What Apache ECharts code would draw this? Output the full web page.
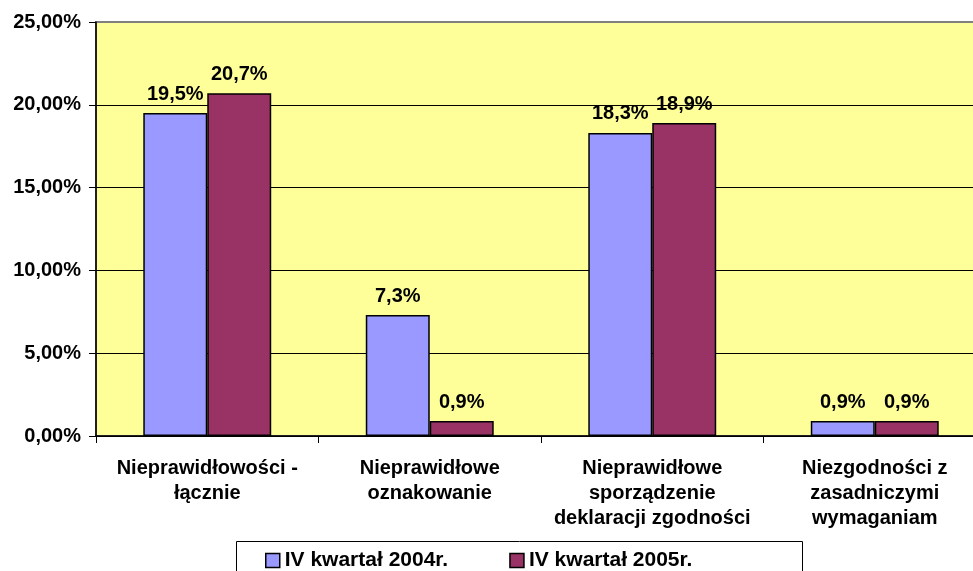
<!DOCTYPE html>
<html>
<head>
<meta charset="utf-8">
<script src="https://cdn.jsdelivr.net/npm/echarts@6/dist/echarts.min.js"></script>
<style>
  html, body { margin: 0; padding: 0; background: #fff; }
  #chart { width: 973px; height: 571px; }
</style>
</head>
<body>
<div id="chart"></div>
<script>
const categories = [
  'Nieprawidłowości -\nłącznie',
  'Nieprawidłowe\noznakowanie',
  'Nieprawidłowe\nsporządzenie\ndeklaracji zgodności',
  'Niezgodności z\nzasadniczymi\nwymaganiam'
];
const seriesNames = ['IV kwartał 2004r.', 'IV kwartał 2005r.'];
const values2004 = [19.5, 7.3, 18.3, 0.9];
const values2005 = [20.7, 0.9, 18.9, 0.9];

const font = 'Arial, "Liberation Sans", sans-serif';
const pct = (v, d) => v.toFixed(d).replace('.', ',') + '%';

const chart = echarts.init(document.getElementById('chart'));

const barLabel = {
    show: true,
    position: 'top',
    distance: 9,
    color: '#000',
    fontFamily: font,
    fontWeight: 'bold',
    fontSize: 20,
    formatter: p => pct(p.value, 1)
};

const option = {
    backgroundColor: '#ffffff',
    animation: false,
    grid: {
        left: 96,
        top: 22,
        width: 890,
        height: 414,
        outerBoundsMode: 'none',
        containLabel: false,
        show: true,
        backgroundColor: '#FFFF99',
        borderColor: '#808080',
        borderWidth: 2
    },
    graphic: [
        {
            type: 'rect',
            left: 236,
            top: 541,
            z: 0,
            shape: { width: 566, height: 40 },
            style: { fill: '#fff', stroke: '#000', lineWidth: 1 }
        }
    ],
    legend: {
        left: 260,
        top: 545,
        itemWidth: 14,
        itemHeight: 14,
        itemGap: 61,
        icon: 'rect',
        itemStyle: { borderColor: '#000', borderWidth: 1.5 },
        textStyle: {
            color: '#000',
            fontFamily: font,
            fontWeight: 'bold',
            fontSize: 21
        },
        data: seriesNames
    },
    xAxis: {
        type: 'category',
        data: categories,
        axisLine: { lineStyle: { color: '#000', width: 1.5 } },
        axisTick: { show: true, length: 7, lineStyle: { color: '#000' } },
        axisLabel: {
            color: '#000',
            fontFamily: font,
            fontWeight: 'bold',
            fontSize: 20,
            lineHeight: 25,
            margin: 20,
            interval: 0
        }
    },
    yAxis: {
        type: 'value',
        min: 0,
        max: 25,
        interval: 5,
        axisLine: { show: true, lineStyle: { color: '#000', width: 1.5 } },
        axisTick: { show: true, length: 7, lineStyle: { color: '#000' } },
        splitLine: {
            show: true,
            lineStyle: {
                color: ['#000', '#000', '#000', '#000', '#000', '#808080'],
                width: 1
            }
        },
        axisLabel: {
            color: '#000',
            fontFamily: font,
            fontWeight: 'bold',
            fontSize: 20,
            margin: 15,
            formatter: v => pct(v, 2)
        }
    },
    series: [
        {
            name: seriesNames[0],
            type: 'bar',
            data: values2004,
            barGap: '0%',
            barCategoryGap: '42.5%',
            itemStyle: { color: '#9999FF', borderColor: '#000', borderWidth: 1.5 },
            label: barLabel
        },
        {
            name: seriesNames[1],
            type: 'bar',
            data: values2005,
            barGap: '0%',
            barCategoryGap: '42.5%',
            itemStyle: { color: '#993366', borderColor: '#000', borderWidth: 1.5 },
            label: barLabel
        }
    ]
};

chart.setOption(option);
</script>
</body>
</html>
